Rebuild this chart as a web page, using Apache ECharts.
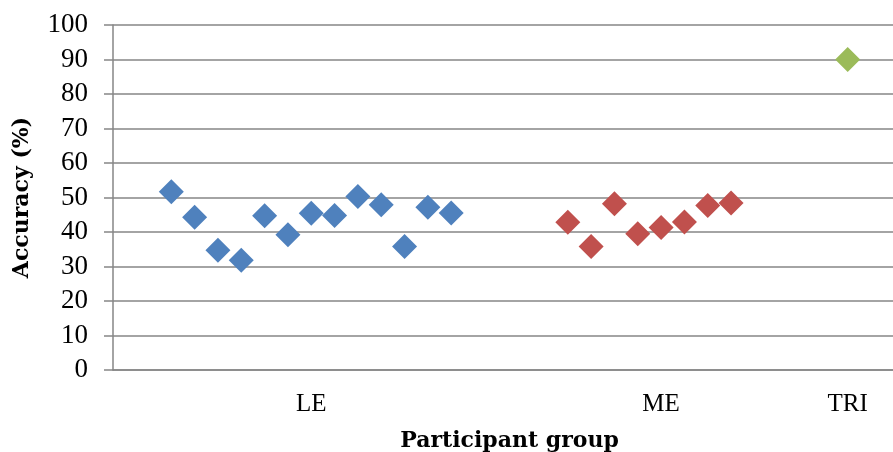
<!DOCTYPE html>
<html>
<head>
<meta charset="utf-8">
<script src="https://cdn.jsdelivr.net/npm/echarts@6/dist/echarts.min.js"></script>
<style>html,body{margin:0;padding:0;background:#fff;}#c{width:893px;height:452px;}</style>
</head>
<body>
<div id="c"></div>
<script>
// Category slots along the x axis (34 slots; only three carry a label)
const slotLabels = ['', '', '', '', '', '', '', '', 'LE', '', '', '', '', '', '', '', '', '', '', '', '', '', '', 'ME', '', '', '', '', '', '', '', 'TRI', '', ''];
// Slot index where each group starts
const leStart = 2;
const meStart = 19;
const triStart = 31;
// Accuracy values (%)
const leValues = [51.7, 44.3, 34.7, 31.8, 44.7, 39.2, 45.4, 44.8, 50.3, 47.9, 35.8, 47.2, 45.5];
const meValues = [42.8, 35.8, 48.2, 39.5, 41.3, 42.9, 47.7, 48.4];
const triValues = [90];
const yTicks = [0, 10, 20, 30, 40, 50, 60, 70, 80, 90, 100];

function place(start, vals) {
  const arr = slotLabels.map(() => null);
  vals.forEach((v, i) => { arr[start + i] = v; });
  return arr;
}

const tickFont = 'Liberation Serif';
const titleFont = 'DejaVu Serif';
const chart = echarts.init(document.getElementById('c'));
chart.setOption({
  animation: false,
  grid: { left: 113, right: -13, top: 25, bottom: 82, containLabel: false, outerBoundsMode: 'none' },
  xAxis: {
    type: 'category',
    data: slotLabels,
    boundaryGap: true,
    name: 'Participant group',
    nameLocation: 'middle',
    nameGap: 60,
    nameTextStyle: { fontFamily: titleFont, fontSize: 22, fontWeight: 'bold', color: '#000' },
    axisLine: { show: true, lineStyle: { color: '#868686', width: 1.5 } },
    axisTick: { show: false },
    axisLabel: { interval: 0, margin: 22, fontFamily: tickFont, fontSize: 25, color: '#000' },
    splitLine: { show: false }
  },
  yAxis: {
    type: 'value',
    min: 0, max: 100, interval: 10,
    name: 'Accuracy (%)',
    nameLocation: 'middle',
    nameGap: 80,
    nameTextStyle: { fontFamily: titleFont, fontSize: 22, fontWeight: 'bold', color: '#000' },
    axisLine: { show: true, lineStyle: { color: '#868686', width: 1.5 } },
    axisTick: { show: true, inside: false, length: 9, lineStyle: { color: '#868686', width: 1.5 } },
    axisLabel: { margin: 25, fontFamily: tickFont, fontSize: 27, color: '#000',
      formatter: v => yTicks.includes(v) ? String(v) : '' },
    splitLine: { show: true, lineStyle: { color: '#868686', width: 1.5 } }
  },
  series: [
    { type: 'line', data: place(leStart, leValues), showSymbol: true, symbol: 'diamond', symbolSize: 25,
      lineStyle: { width: 0, opacity: 0 }, itemStyle: { color: '#4F81BD' }, connectNulls: false },
    { type: 'line', data: place(meStart, meValues), showSymbol: true, symbol: 'diamond', symbolSize: 25,
      lineStyle: { width: 0, opacity: 0 }, itemStyle: { color: '#C0504D' }, connectNulls: false },
    { type: 'line', data: place(triStart, triValues), showSymbol: true, symbol: 'diamond', symbolSize: 25,
      lineStyle: { width: 0, opacity: 0 }, itemStyle: { color: '#9BBB59' }, connectNulls: false }
  ]
});
</script>
</body>
</html>
